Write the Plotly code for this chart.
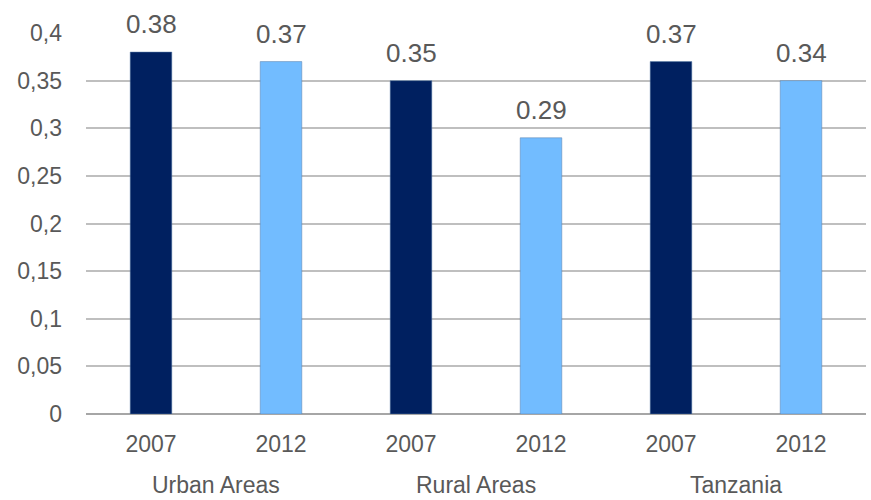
import plotly.graph_objects as go

groups = ['Urban Areas', 'Rural Areas', 'Tanzania']
years = ['2007', '2012', '2007', '2012', '2007', '2012']
values = [0.38, 0.37, 0.35, 0.29, 0.37, 0.35]
labels = ['0.38', '0.37', '0.35', '0.29', '0.37', '0.34']
colors = ['#002060', '#72BCFF', '#002060', '#72BCFF', '#002060', '#72BCFF']

xpos = list(range(len(values)))

fig = go.Figure()
fig.add_trace(go.Bar(x=xpos, y=values, width=0.32,
                     marker=dict(color=colors, line=dict(color='#5a7fa8', width=0.5)),
                     hoverinfo='skip'))

for x, v, t in zip(xpos, values, labels):
    fig.add_annotation(x=x, y=v, text=t, showarrow=False, yanchor='middle', yshift=28,
                       font=dict(size=26, color='#595959', family='Liberation Sans, Arial'))

for i, g in enumerate(groups):
    fig.add_annotation(x=2 * i + 0.5, y=-0.186, xref='x', yref='paper', text=g, showarrow=False,
                       yanchor='middle', borderpad=0,
                       font=dict(size=23, color='#595959', family='Liberation Sans, Arial'))

fig.update_layout(
    width=871, height=500,
    margin=dict(l=86, r=5, t=33, b=86),
    plot_bgcolor='white', paper_bgcolor='white',
    separators=',.',
    showlegend=False,
    xaxis=dict(tickvals=xpos, ticktext=years, range=[-0.5, 5.5], showgrid=False,
               ticks='', ticklabelstandoff=14,
               tickfont=dict(size=23, color='#595959', family='Liberation Sans, Arial')),
    yaxis=dict(range=[0, 0.4], dtick=0.05, showgrid=True, gridcolor='#BFBFBF', gridwidth=1.5,
               zeroline=True, zerolinecolor='#A6A6A6', zerolinewidth=2, ticks='', ticklabelstandoff=23,
               tickfont=dict(size=23, color='#595959', family='Liberation Sans, Arial')),
)

fig.write_html("out.html", config={'displayModeBar': False},
               post_script="document.body.style.margin='0';")
